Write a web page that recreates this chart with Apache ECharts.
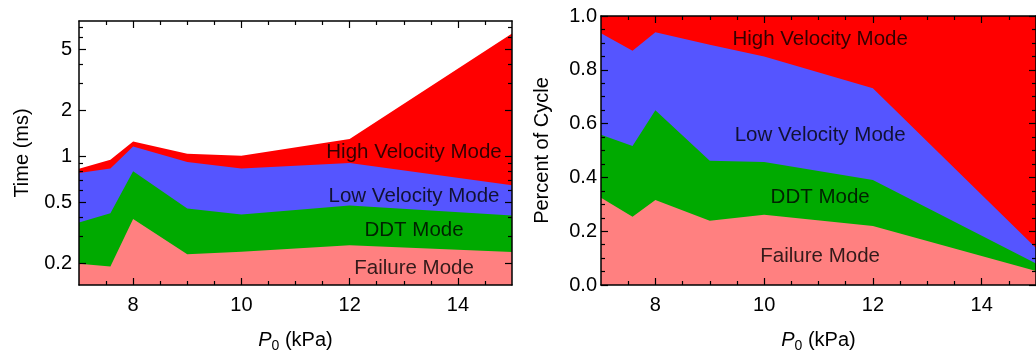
<!DOCTYPE html>
<html>
<head>
<meta charset="utf-8">
<script src="https://cdn.jsdelivr.net/npm/echarts@6/dist/echarts.min.js"></script>
<style>
	html, body { margin: 0; padding: 0; background: #fff; }
	#chart { width: 1036px; height: 358px; }
</style>
</head>
<body>
<div id="chart"></div>
<script>
// P0 (kPa) sample points, shared by both panels
const pressure = [7, 7.58, 8, 9, 10, 12, 15];

// left panel: time (ms) at the upper edge of each mode band
const highTop = [0.83, 0.95, 1.25, 1.04, 1.01, 1.30, 6.37];
const lowTop = [0.78, 0.835, 1.16, 0.92, 0.835, 0.906, 0.647];
const ddtTop = [0.37, 0.425, 0.80, 0.457, 0.417, 0.477, 0.41];
const failTop = [0.198, 0.19, 0.39, 0.229, 0.238, 0.262, 0.237];

// right panel: fraction of cycle at the upper edge of each mode band
const highTopR = [1, 1, 1, 1, 1, 1, 1];
const lowTopR = [0.936, 0.871, 0.94, 0.893, 0.849, 0.731, 0.138];
const ddtTopR = [0.559, 0.517, 0.65, 0.462, 0.457, 0.39, 0.08];
const failTopR = [0.324, 0.254, 0.316, 0.239, 0.261, 0.219, 0.052];

const modeNames = ['High Velocity Mode', 'Low Velocity Mode', 'DDT Mode', 'Failure Mode'];
const modeColors = ['#ff0000', '#5555ff', '#00aa00', '#ff8080'];

// tick labels
const xMajor = [8, 10, 12, 14];
const xMinor = [7.5, 8.5, 9, 9.5, 10.5, 11, 11.5, 12.5, 13, 13.5, 14.5];
const timeMajor = [0.2, 0.5, 1, 2, 5];
const timeMinor = [0.3, 0.4, 0.6, 0.7, 0.8, 0.9, 3, 4, 6, 7];
const cycleMajor = [0, 0.2, 0.4, 0.6, 0.8, 1];
const cycleMinor = [0.05, 0.1, 0.15, 0.25, 0.3, 0.35, 0.45, 0.5, 0.55, 0.65, 0.7, 0.75, 0.85, 0.9, 0.95];

const font = 'Liberation Sans, Arial, sans-serif';
const ink = '#000';
const frame = { show: true, onZero: false, lineStyle: { color: ink, width: 1.5 } };

function pairs(ys) {
	return pressure.map(function (x, i) { return [x, ys[i]]; });
}

function xAxes(grid) {
	const base = { gridIndex: grid, type: 'value', min: 7, max: 15, z: 5, splitLine: { show: false } };
	return [
		Object.assign({}, base, {
			position: 'bottom',
			axisLine: frame,
			axisTick: { inside: true, length: 7, customValues: xMajor, lineStyle: { color: ink, width: 1.2 } },
			axisLabel: { customValues: xMajor, margin: 10, fontSize: 20, color: ink, fontFamily: font },
			name: '{i|P}{s|0} (kPa)',
			nameLocation: 'middle',
			nameGap: 42,
			nameTextStyle: {
				fontSize: 20, color: ink, fontFamily: font,
				rich: {
					i: { fontSize: 20, fontStyle: 'italic', color: ink, fontFamily: font },
					s: { fontSize: 14, color: ink, fontFamily: font, padding: [12, 0, 0, 0] }
				}
			}
		}),
		Object.assign({}, base, {
			position: 'bottom',
			axisLine: { show: false, onZero: false },
			axisTick: { inside: true, length: 4, customValues: xMinor, lineStyle: { color: ink, width: 1.2 } },
			axisLabel: { show: false }
		}),
		Object.assign({}, base, {
			position: 'top',
			axisLine: frame,
			axisTick: { inside: true, length: 7, customValues: xMajor, lineStyle: { color: ink, width: 1.2 } },
			axisLabel: { show: false }
		}),
		Object.assign({}, base, {
			position: 'top',
			axisLine: { show: false, onZero: false },
			axisTick: { inside: true, length: 4, customValues: xMinor, lineStyle: { color: ink, width: 1.2 } },
			axisLabel: { show: false }
		})
	];
}

function yAxes(grid, type, min, max, major, minor, name, gap, margin, fmt) {
	const base = { gridIndex: grid, type: type, min: min, max: max, z: 5, splitLine: { show: false } };
	return [
		Object.assign({}, base, {
			position: 'left',
			axisLine: frame,
			axisTick: { inside: true, length: 7, customValues: major, lineStyle: { color: ink, width: 1.2 } },
			axisLabel: { customValues: major, margin: margin, fontSize: 20, color: ink, fontFamily: font, formatter: fmt },
			name: name,
			nameLocation: 'middle',
			nameGap: gap,
			nameTextStyle: { fontSize: 20, color: ink, fontFamily: font }
		}),
		Object.assign({}, base, {
			position: 'left',
			axisLine: { show: false, onZero: false },
			axisTick: { inside: true, length: 4, customValues: minor, lineStyle: { color: ink, width: 1.2 } },
			axisLabel: { show: false }
		}),
		Object.assign({}, base, {
			position: 'right',
			axisLine: frame,
			axisTick: { inside: true, length: 7, customValues: major, lineStyle: { color: ink, width: 1.2 } },
			axisLabel: { show: false }
		}),
		Object.assign({}, base, {
			position: 'right',
			axisLine: { show: false, onZero: false },
			axisTick: { inside: true, length: 4, customValues: minor, lineStyle: { color: ink, width: 1.2 } },
			axisLabel: { show: false }
		})
	];
}

function bands(axisIndex, tops) {
	return tops.map(function (ys, k) {
		return {
			name: modeNames[k],
			type: 'line',
			xAxisIndex: axisIndex,
			yAxisIndex: axisIndex,
			data: pairs(ys),
			symbol: 'none',
			lineStyle: { width: 0 },
			areaStyle: { color: modeColors[k], opacity: 1, origin: 'start' },
			silent: true,
			z: 2 + k * 0.01
		};
	});
}

// text anchors for the band names, in data units
function bandLabels(axisIndex, x, ys) {
	return {
		type: 'scatter',
		xAxisIndex: axisIndex,
		yAxisIndex: axisIndex,
		symbolSize: 0,
		silent: true,
		z: 4,
		label: { show: true, position: 'inside', formatter: '{b}', fontSize: 20.5, color: ink, fontFamily: font },
		data: ys.map(function (y, k) { return { name: modeNames[k], value: [x, y] }; })
	};
}

const myChart = echarts.init(document.getElementById('chart'));
const option = {
	animation: false,
	backgroundColor: '#fff',
	grid: [
		{ left: 79, top: 21, width: 433, height: 265 },
		{ left: 601, top: 16, width: 437, height: 271 }
	],
	xAxis: xAxes(0).concat(xAxes(1)),
	yAxis: yAxes(0, 'log', 0.144, 7.7, timeMajor, timeMinor, 'Time (ms)', 47, 7, function (v) { return String(v); })
		.concat(yAxes(1, 'value', 0, 1, cycleMajor, cycleMinor, 'Percent of Cycle', 49, 4, function (v) { return v.toFixed(1); })),
	series: bands(0, [highTop, lowTop, ddtTop, failTop])
		.concat(bands(4, [highTopR, lowTopR, ddtTopR, failTopR]))
		.concat([
			bandLabels(0, 13.19, [1.06, 0.546, 0.328, 0.186]),
			bandLabels(4, 11.03, [0.914, 0.558, 0.326, 0.106])
		])
};
myChart.setOption(option);
</script>
</body>
</html>
